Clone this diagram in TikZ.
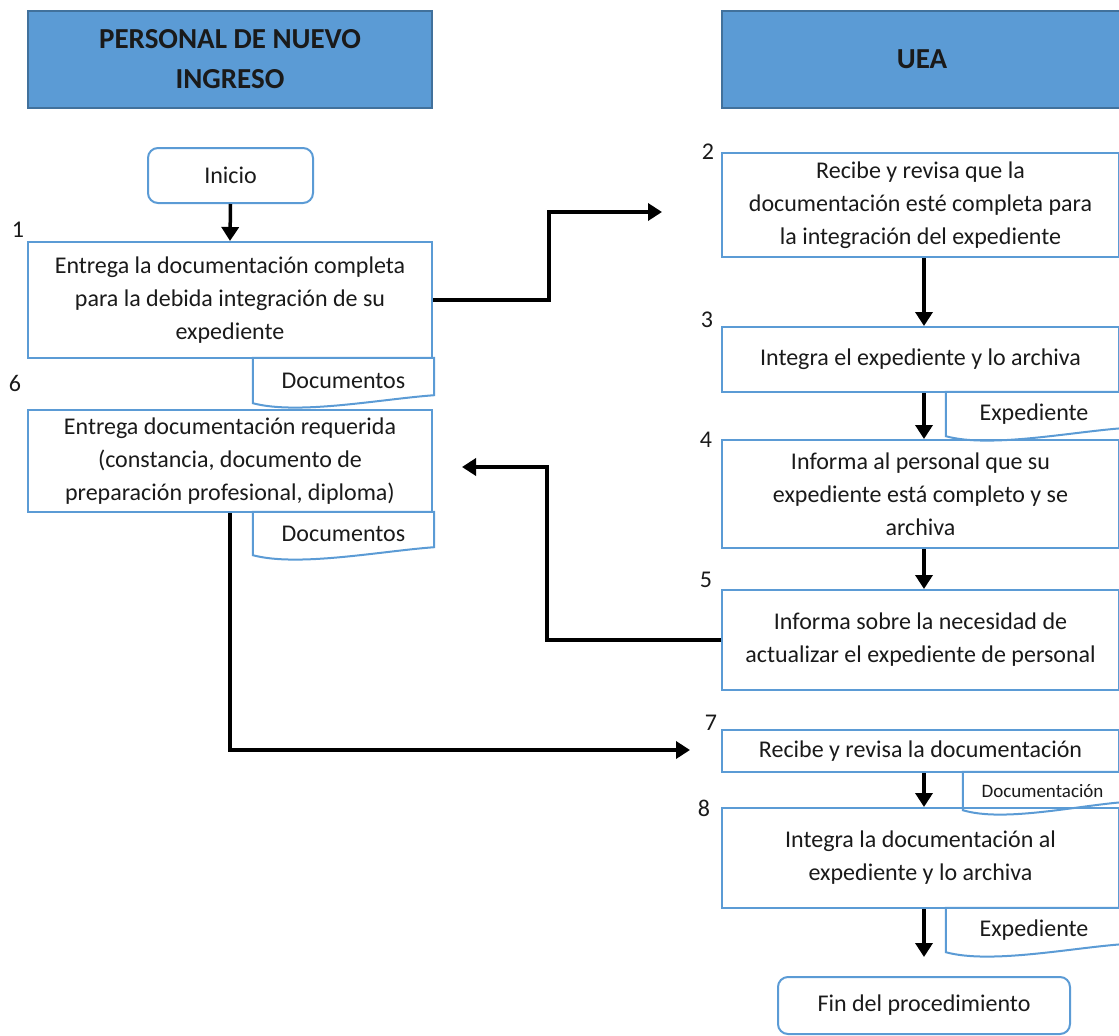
\documentclass[tikz,border=0pt]{standalone}
\usepackage{fontspec}
\setmainfont{Carlito}
\usepackage{tikz}
\usetikzlibrary{calc,arrows.meta,
  positioning}
\definecolor{boxblue}{HTML}{5B9BD5}
\definecolor{hdrline}{HTML}{41719C}
\definecolor{txtdark}{HTML}{1A1A1A}

% outline of a document symbol round a node
\newcommand\docframe[1]{%
  \draw[docline](#1.south west)--(#1.north west)--(#1.north east)
  --($(#1.south east)+(0,-8)$)
  .. controls ($(#1.south east)!0.3!(#1.south west)+(0,-4)$)
  and ($(#1.south east)!0.75!(#1.south west)+(0,12)$) .. cycle;}

\begin{document}
\begin{tikzpicture}[x=1pt,y=-1pt,
  every node/.style={text=txtdark,font=\fontsize{24}{33}\selectfont},
  hdr/.style={draw=hdrline,line width=2pt,fill=boxblue,align=center,
    minimum height=97pt,inner sep=0pt,
    font=\fontsize{29}{40}\selectfont\bfseries},
  box/.style={draw=boxblue,line width=2pt,align=center,inner sep=0pt},
  startend/.style={box,rounded corners=10pt},
  docbox/.style={inner sep=0pt},
  docline/.style={draw=boxblue,line width=2pt},
  num/.style={inner sep=0pt},
  flow/.style={line width=3.5pt,
    -{Triangle[length=14pt,width=17pt]}}]
  \useasboundingbox(0,0)rectangle(1119,1036);
  % headers
  \node[hdr,minimum width=404pt](hdrL) at (230,59.5)
    {PERSONAL DE NUEVO\\INGRESO};
  \node[hdr,minimum width=400pt](hdrR) at (922,59.5) {UEA};
  % left column
  \node[startend,minimum width=165pt,minimum height=55pt](inicio)
    at (230.5,175.5) {Inicio};
  \node[box,minimum width=404pt,minimum height=116pt](b1) at (230,300)
    {Entrega la documentación completa\\para la debida integración de su\\expediente};
  \node[docbox,minimum width=181pt,minimum height=45pt](d1) at (343.5,380.5)
    {Documentos};
  \docframe{d1}
  \node[box,minimum width=404pt,minimum height=102pt](b6) at (230,461)
    {Entrega documentación requerida\\(constancia, documento de\\preparación profesional, diploma)};
  \node[docbox,minimum width=181pt,minimum height=43pt](d6) at (343.5,533.5)
    {Documentos};
  \docframe{d6}
  % right column
  \node[box,minimum width=397pt,minimum height=104pt](b2) at (920.5,205)
    {Recibe y revisa que la\\documentación esté completa para\\la integración del expediente};
  \node[box,minimum width=397pt,minimum height=65pt](b3) at (920.5,359.5)
    {Integra el expediente y lo archiva};
  \node[docbox,minimum width=176pt,minimum height=44pt](dx3) at (1034,414)
    {Expediente};
  \docframe{dx3}
  \node[box,minimum width=397pt,minimum height=108pt](b4) at (920.5,494)
    {Informa al personal que su\\expediente está completo y se\\archiva};
  \node[box,minimum width=397pt,minimum height=100pt](b5) at (920.5,640)
    {Informa sobre la necesidad de\\actualizar el expediente de personal};
  \node[box,minimum width=397pt,minimum height=42pt](b7) at (920.5,751)
    {Recibe y revisa la documentación};
  \node[docbox,minimum width=159pt,minimum height=38pt,
    font=\fontsize{19}{22}\selectfont](dd7) at (1042.5,791) {Documentación};
  \docframe{dd7}
  \node[box,minimum width=397pt,minimum height=100pt](b8) at (920.5,858)
    {Integra la documentación al\\expediente y lo archiva};
  \node[docbox,minimum width=176pt,minimum height=44pt](dx8) at (1034,930)
    {Expediente};
  \docframe{dx8}
  \node[startend,minimum width=292pt,minimum height=57pt](fin)
    at (924,1005.5) {Fin del procedimiento};
  % step numbers
  \node[num](n1) at (18,230) {1};
  \node[num](n2) at (708,152) {2};
  \node[num](n3) at (707,320) {3};
  \node[num](n4) at (706,440) {4};
  \node[num](n5) at (706,580) {5};
  \node[num](n6) at (15,383) {6};
  \node[num](n7) at (711,723) {7};
  \node[num](n8) at (704,808) {8};
  % free arrow ends
  \coordinate(c2) at (662,212);
  \coordinate(c6) at (462,467);
  \coordinate(c7) at (690,750);
  \coordinate(c9) at (924,957);
  % connectors
  \draw[flow](inicio.south)--(b1.north);
  \draw[flow](b1.east)--++(116,0)|-(c2);
  \draw[flow](b2.south-|fin)--(b3.north-|fin);
  \draw[flow](b3.south-|fin)--(b4.north-|fin);
  \draw[flow](b4.south-|fin)--(b5.north-|fin);
  \draw[flow](b5.west)--++(-174,0)|-(c6);
  \draw[flow](b6.south)|-(c7);
  \draw[flow](b7.south-|fin)--(b8.north-|fin);
  \draw[flow](b8.south-|fin)--(c9);
\end{tikzpicture}
\end{document}
